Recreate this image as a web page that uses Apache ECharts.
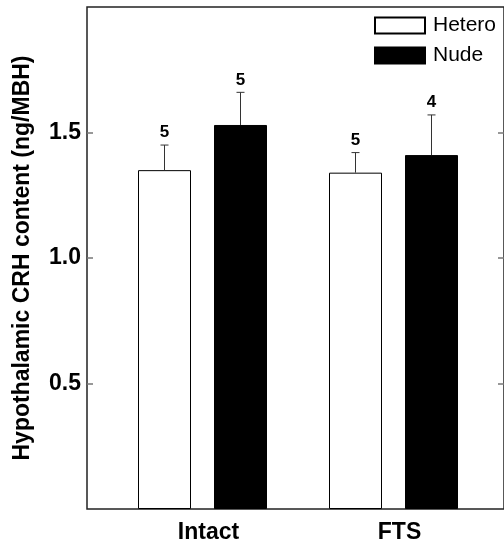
<!DOCTYPE html>
<html>
<head>
<meta charset="utf-8">
<script src="https://cdn.jsdelivr.net/npm/echarts@6/dist/echarts.min.js"></script>
<style>html,body{margin:0;padding:0;background:#fff}#c{width:504px;height:544px}</style>
</head>
<body>
<div id="c"></div>
<script>
const categories = ['Intact', 'FTS'];
const seriesNames = ['Hetero', 'Nude'];
const heteroValues = [1.35, 1.34];
const nudeValues = [1.53, 1.41];
const heteroErrors = [0.10, 0.08];
const nudeErrors = [0.13, 0.16];
const heteroN = [5, 5];
const nudeN = [5, 4];
const yTicks = [0.5, 1.0, 1.5];

const BAR_W = 53, BAR_GAP = 23;
const OFF = (BAR_W + BAR_GAP) / 2;
const FONT = 'Liberation Sans, Arial, sans-serif';

function errData(vals, errs, ns) {
  return vals.map((v, i) => [i, v, errs[i], ns[i]]);
}
function errRender(offset) {
  return function (params, api) {
    const i = api.value(0), v = api.value(1), e = api.value(2), n = api.value(3);
    const b = api.coord([i, v]);
    const t = api.coord([i, v + e]);
    const x = b[0] + offset;
    return {
      type: 'group',
      children: [
        {type: 'line', shape: {x1: x, y1: b[1], x2: x, y2: t[1]}, style: {stroke: '#333', lineWidth: 1}},
        {type: 'line', shape: {x1: x - 4, y1: t[1], x2: x + 4, y2: t[1]}, style: {stroke: '#333', lineWidth: 1}},
        {type: 'text', x: x, y: t[1] - 4, style: {text: String(n), fill: '#000', font: 'bold 17px ' + FONT, align: 'center', verticalAlign: 'bottom'}}
      ]
    };
  };
}

const chart = echarts.init(document.getElementById('c'), null, {renderer: 'canvas'});
chart.setOption({
  animation: false,
  backgroundColor: '#fff',
  legend: {
    data: seriesNames,
    orient: 'vertical',
    left: 374, top: 15, padding: 0,
    itemWidth: 50, itemHeight: 16, itemGap: 9,
    icon: 'rect',
    textStyle: {fontFamily: FONT, fontSize: 21, color: '#000', padding: [0, 0, 0, 3]}
  },
  grid: [
    {left: 87, top: 7, width: 419, height: 502, show: true, borderColor: '#222', borderWidth: 1.5, backgroundColor: 'transparent'},
    {left: 107, top: 7, width: 382, height: 502}
  ],
  xAxis: [
    {type: 'value', gridIndex: 0, min: 0, max: 1, show: false},
    {type: 'category', gridIndex: 1, data: categories,
     axisLine: {show: false}, axisTick: {show: false},
     axisLabel: {fontFamily: FONT, fontWeight: 'bold', fontSize: 23, color: '#000', margin: 12, padding: [0, 0, 0, 12]}}
  ],
  yAxis: [
    {type: 'value', gridIndex: 0, min: 0, max: 2, interval: 0.5, position: 'left',
     name: 'Hypothalamic CRH content (ng/MBH)', nameLocation: 'middle', nameGap: 53,
     nameTextStyle: {fontFamily: FONT, fontWeight: 'bold', fontSize: 23, color: '#000'},
     axisLine: {show: false}, splitLine: {show: false},
     axisTick: {show: true, inside: true, length: 6, lineStyle: {color: '#777', width: 1.5},
       customValues: yTicks},
     axisLabel: {fontFamily: FONT, fontWeight: 'bold', fontSize: 23, color: '#000', margin: 6,
       customValues: yTicks, formatter: v => v.toFixed(1)}},
    {type: 'value', gridIndex: 0, min: 0, max: 2, interval: 0.5, position: 'right',
     axisLine: {show: false}, splitLine: {show: false}, axisLabel: {show: false},
     axisTick: {show: true, inside: true, length: 6, lineStyle: {color: '#777', width: 1.5}, customValues: yTicks}},
    {type: 'value', gridIndex: 1, min: 0, max: 2, show: false, splitLine: {show: false}}
  ],
  series: [
    {name: 'Hetero', type: 'bar', xAxisIndex: 1, yAxisIndex: 2, data: heteroValues,
     barWidth: BAR_W, barGap: (BAR_GAP / BAR_W * 100) + '%',
     itemStyle: {color: '#fff', borderColor: '#000', borderWidth: 1}},
    {name: 'Nude', type: 'bar', xAxisIndex: 1, yAxisIndex: 2, data: nudeValues,
     barWidth: BAR_W, barGap: (BAR_GAP / BAR_W * 100) + '%',
     itemStyle: {color: '#000', borderColor: '#000', borderWidth: 1}},
    {type: 'custom', xAxisIndex: 1, yAxisIndex: 2, data: errData(heteroValues, heteroErrors, heteroN),
     renderItem: errRender(-OFF), encode: {x: 0, y: 1}, z: 5, silent: true},
    {type: 'custom', xAxisIndex: 1, yAxisIndex: 2, data: errData(nudeValues, nudeErrors, nudeN),
     renderItem: errRender(OFF), encode: {x: 0, y: 1}, z: 5, silent: true}
  ]
});
</script>
</body>
</html>
